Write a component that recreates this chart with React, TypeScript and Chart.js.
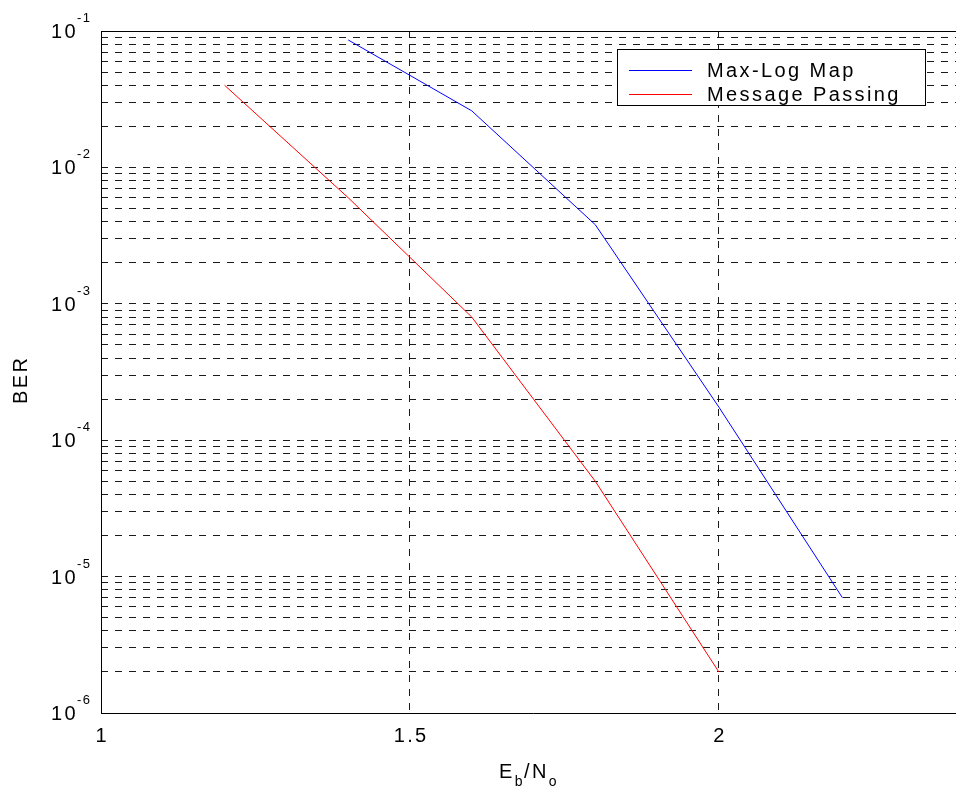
import React, { useEffect, useRef } from "react";
import { Chart, registerables } from "chart.js";

Chart.register(...registerables);

// ---- data ----
const maxLogX = [1.4, 1.6, 1.8, 2.0, 2.2];
const maxLogBER = [0.086, 0.026, 0.0038, 0.000175, 0.000007];
const msgPassX = [1.2, 1.4, 1.6, 1.8, 2.0];
const msgPassBER = [0.04, 0.006, 0.0008, 0.00005, 0.000002];

const seriesNames = ["Max-Log Map", "Message Passing"];
const seriesColors = ["#0000ff", "#ff0000"];

const xTickValues = [1, 1.5, 2];
const xTickLabels = ["1", "1.5", "2"];
const yDecadeExponents = [-6, -5, -4, -3, -2, -1];
const yMantissas = [1, 2, 3, 4, 5, 6, 7, 8, 9];

const X_MIN = 1;
const X_MAX = 2.4;
const Y_MIN = 1e-6;
const Y_MAX = 1e-1;

const FONT = "'Liberation Sans', Arial, sans-serif";

const yGridValues: number[] = [];
yDecadeExponents.forEach((e) => {
  yMantissas.forEach((m) => {
    const v = m * Math.pow(10, e);
    if (v <= Y_MAX * 1.0001) yGridValues.push(v);
  });
});

function drawSpaced(ctx: CanvasRenderingContext2D, text: string, x: number, y: number, size: number, spacing: number) {
  ctx.font = `${size}px ${FONT}`;
  (ctx as any).letterSpacing = `${spacing}px`;
  ctx.fillText(text, x, y);
  const w = ctx.measureText(text).width;
  return w;
}

const overlayPlugin = {
  id: "matlabOverlay",
  afterDraw(chart: any) {
    const ctx: CanvasRenderingContext2D = chart.ctx;
    const area = chart.chartArea;
    const xs = chart.scales.x;
    const ys = chart.scales.y;
    ctx.save();
    // borders
    ctx.strokeStyle = "#000";
    ctx.lineWidth = 1;
    ctx.setLineDash([]);
    ctx.beginPath();
    ctx.moveTo(Math.round(area.left) + 0.5, area.top);
    ctx.lineTo(Math.round(area.left) + 0.5, Math.round(area.bottom) + 0.5);
    ctx.lineTo(area.right, Math.round(area.bottom) + 0.5);
    ctx.moveTo(Math.round(area.left), Math.round(area.top) + 0.5);
    ctx.lineTo(area.right, Math.round(area.top) + 0.5);
    ctx.stroke();

    ctx.fillStyle = "#000";
    ctx.textBaseline = "alphabetic";

    // x tick labels
    ctx.textAlign = "left";
    xTickValues.forEach((v, i) => {
      const px = xs.getPixelForValue(v);
      ctx.font = `20px ${FONT}`;
      (ctx as any).letterSpacing = "2.4px";
      const w = ctx.measureText(xTickLabels[i]).width - 2.4;
      ctx.fillText(xTickLabels[i], px - w / 2, area.bottom + 29);
    });

    // y tick labels 10^e
    yDecadeExponents.forEach((e) => {
      const py = ys.getPixelForValue(Math.pow(10, e));
      const expText = `${e}`;
      ctx.font = `13px ${FONT}`;
      (ctx as any).letterSpacing = "1.5px";
      const ew = ctx.measureText(expText).width - 1.5;
      ctx.font = `20px ${FONT}`;
      (ctx as any).letterSpacing = "2.4px";
      const bw = ctx.measureText("10").width;
      const right = area.left - 10;
      const bx = right - ew - bw;
      drawSpaced(ctx, "10", bx, py + 7, 20, 2.4);
      drawSpaced(ctx, expText, bx + bw - 1, py - 9, 13, 1.5);
    });

    // y title
    ctx.save();
    ctx.translate(27, 381);
    ctx.rotate(-Math.PI / 2);
    ctx.font = `20px ${FONT}`;
    (ctx as any).letterSpacing = "2.4px";
    const tw = ctx.measureText("BER").width - 2.4;
    ctx.fillText("BER", -tw / 2, 0);
    ctx.restore();

    // x title E_b/N_o
    let cx = 499;
    const baseY = 778;
    cx += drawSpaced(ctx, "E", cx, baseY, 20, 2.4);
    cx += drawSpaced(ctx, "b", cx, baseY + 8, 14, 1.5);
    cx += drawSpaced(ctx, "/N", cx, baseY, 20, 2.4);
    drawSpaced(ctx, "o", cx, baseY + 8, 14, 1.5);

    // legend
    const lx = 617;
    const ly = 49;
    const lw = 925 - lx;
    const lh = 56;
    ctx.fillStyle = "#fff";
    ctx.fillRect(lx, ly, lw, lh);
    ctx.strokeStyle = "#000";
    ctx.lineWidth = 1;
    ctx.strokeRect(lx + 0.5, ly + 0.5, lw, lh);
    seriesNames.forEach((name, i) => {
      const yy = ly + 21 + i * 24;
      ctx.strokeStyle = seriesColors[i];
      ctx.beginPath();
      ctx.moveTo(lx + 12, yy + 0.5);
      ctx.lineTo(lx + 75, yy + 0.5);
      ctx.stroke();
      ctx.fillStyle = "#000";
      drawSpaced(ctx, name, lx + 90, yy + 7, 20, 2.4);
    });
    ctx.restore();
  },
};

export default function App() {
  const ref = useRef<HTMLCanvasElement | null>(null);
  useEffect(() => {
    if (!ref.current) return;
    const chart = new Chart(ref.current, {
      type: "line",
      data: {
        datasets: [
          {
            label: seriesNames[0],
            data: maxLogX.map((x, i) => ({ x, y: maxLogBER[i] })),
            borderColor: seriesColors[0],
            borderWidth: 1,
            pointRadius: 0,
            tension: 0,
            fill: false,
          },
          {
            label: seriesNames[1],
            data: msgPassX.map((x, i) => ({ x, y: msgPassBER[i] })),
            borderColor: seriesColors[1],
            borderWidth: 1,
            pointRadius: 0,
            tension: 0,
            fill: false,
          },
        ],
      },
      options: {
        animation: false,
        responsive: false,
        devicePixelRatio: 1,
        events: [],
        layout: { padding: { left: 101, top: 31, right: 14, bottom: 81 } },
        plugins: { legend: { display: false }, tooltip: { enabled: false } },
        scales: {
          x: {
            type: "linear",
            min: X_MIN,
            max: X_MAX,
            afterBuildTicks: (scale: any) => {
              scale.ticks = xTickValues.map((v) => ({ value: v }));
            },
            ticks: { display: false },
            grid: { color: "#1a1a1a", lineWidth: 1, drawTicks: false },
            border: { display: false, dash: [7, 7] },
          },
          y: {
            type: "logarithmic",
            min: Y_MIN,
            max: Y_MAX,
            afterBuildTicks: (scale: any) => {
              scale.ticks = yGridValues.map((v) => ({ value: v }));
            },
            ticks: { display: false, autoSkip: false },
            grid: { color: "#1a1a1a", lineWidth: 1, drawTicks: false },
            border: { display: false, dash: [7, 7] },
          },
        },
      },
      plugins: [overlayPlugin],
    });
    return () => chart.destroy();
  }, []);
  return (
    <div style={{ position: "absolute", left: 0, top: 0, width: 956, height: 794, overflow: "hidden", background: "#fff" }}>
      <canvas ref={ref} width={980} height={794} style={{ width: 980, height: 794, display: "block" }} />
    </div>
  );
}
